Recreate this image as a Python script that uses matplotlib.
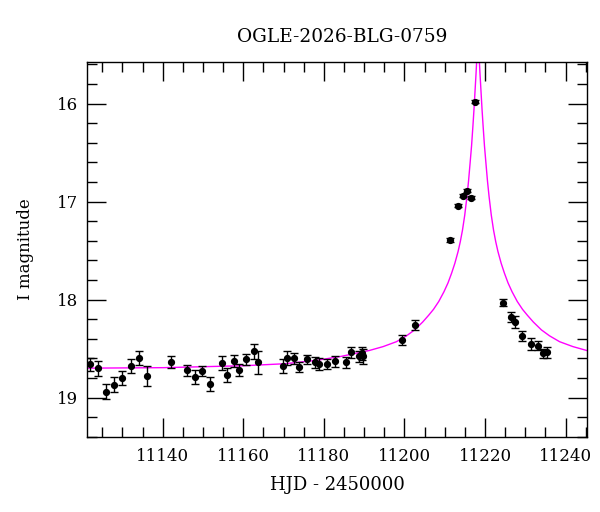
import numpy as np
import matplotlib.pyplot as plt
from matplotlib.ticker import MultipleLocator

plt.rcParams['font.family'] = ['DejaVu Serif']

# photometry
hjd = [11121.9, 11124.0, 11126.0, 11128.0, 11130.0, 11132.0, 11134.0, 11136.0,
       11142.1, 11146.0, 11148.0, 11149.8, 11151.8, 11154.6, 11156.0, 11157.8,
       11158.9, 11160.7, 11162.7, 11163.7, 11169.8, 11170.9, 11172.7, 11173.8,
       11175.7, 11177.7, 11178.7, 11180.7, 11182.7, 11185.5, 11186.7, 11188.6,
       11189.5, 11189.8, 11199.4, 11202.6, 11211.3, 11213.4, 11214.4, 11215.4,
       11216.5, 11217.5, 11224.4, 11226.4, 11227.4, 11229.2, 11231.4, 11233.2,
       11234.3, 11235.4]
mag = [18.66, 18.70, 18.94, 18.87, 18.80, 18.68, 18.60, 18.78,
       18.64, 18.72, 18.79, 18.73, 18.86, 18.65, 18.77, 18.63,
       18.72, 18.61, 18.53, 18.64, 18.68, 18.60, 18.60, 18.69,
       18.61, 18.64, 18.66, 18.66, 18.63, 18.64, 18.54, 18.58,
       18.55, 18.58, 18.41, 18.26, 17.39, 17.04, 16.94, 16.89,
       16.96, 15.98, 18.03, 18.18, 18.23, 18.37, 18.45, 18.47,
       18.55, 18.54]
err = [0.066, 0.075, 0.075, 0.075, 0.07, 0.07, 0.07, 0.10,
       0.06, 0.055, 0.07, 0.05, 0.07, 0.07, 0.07, 0.06,
       0.065, 0.058, 0.075, 0.12, 0.07, 0.07, 0.055, 0.05,
       0.045, 0.055, 0.06, 0.05, 0.055, 0.055, 0.06, 0.055,
       0.065, 0.075, 0.05, 0.05, 0.02, 0.015, 0.015, 0.015,
       0.015, 0.015, 0.035, 0.05, 0.065, 0.05, 0.06, 0.045,
       0.045, 0.058]

# model curve, points
model_t = [11121.2, 11140.25, 11160.25, 11170.25, 11178.25, 11184.25, 11191.25,
           11194.7, 11198.0, 11200.5, 11202.5, 11204.5, 11206.0, 11207.2,
           11208.5, 11209.8, 11210.8, 11211.7, 11212.5, 11213.3, 11213.85,
           11214.4, 11214.95, 11215.5, 11215.9, 11216.3, 11216.65, 11217.0,
           11217.25, 11217.5, 11217.75, 11218.0, 11218.25,
           11218.5, 11218.75, 11219.0, 11219.25, 11219.5, 11219.85, 11220.2,
           11220.6, 11221.0, 11221.55, 11222.1, 11222.65, 11223.2, 11224.0,
           11224.8, 11225.7, 11226.7, 11228.0, 11229.3, 11230.5, 11232.0,
           11234.0, 11236.0, 11238.5, 11241.8, 11245.25, 11245.4]
model_mag = [18.70, 18.695, 18.675, 18.655, 18.62, 18.58, 18.52,
             18.48, 18.43, 18.37, 18.31, 18.23, 18.16, 18.10,
             18.02, 17.92, 17.83, 17.73, 17.63, 17.51, 17.41,
             17.29, 17.14, 16.95, 16.79, 16.60, 16.43, 16.22,
             16.06, 15.88, 15.70, 15.50, 15.00,
             15.50, 15.70, 15.88, 16.06, 16.22, 16.43, 16.60,
             16.79, 16.95, 17.14, 17.29, 17.41, 17.51, 17.63,
             17.73, 17.83, 17.92, 18.02, 18.10, 18.16, 18.23,
             18.31, 18.37, 18.43, 18.48, 18.52, 18.52]

fig = plt.figure(figsize=(6, 5.12), dpi=100)
ax = fig.add_axes([0.145, 0.147, 0.834, 0.731])

ax.plot(model_t, model_mag, color='#ff00ff', lw=1.0, zorder=1)
ax.errorbar(hjd, mag, yerr=err, fmt='o', color='black', ms=4.2, elinewidth=1,
            capsize=3, capthick=1, zorder=2)

ax.set_xlim(11121.2, 11245.4)
ax.set_ylim(19.40, 15.58)
ax.xaxis.set_major_locator(MultipleLocator(20))
ax.xaxis.set_minor_locator(MultipleLocator(5))
ax.yaxis.set_major_locator(MultipleLocator(1))
ax.yaxis.set_minor_locator(MultipleLocator(0.2))
ax.tick_params(which='both', direction='in', top=True, right=True, width=1,
               labelsize=12)
ax.tick_params(which='major', length=13.5)
ax.tick_params(axis='y', which='major', pad=6.5)
ax.tick_params(axis='x', which='major', pad=8)
ax.tick_params(which='minor', length=7)
for s in ax.spines.values():
    s.set_linewidth(1)

ax.set_title('OGLE-2026-BLG-0759', fontsize=13.3, pad=14.5, x=0.509)
ax.set_xlabel('HJD - 2450000', fontsize=13, labelpad=8)
ax.set_ylabel('I magnitude', fontsize=12, labelpad=16)

fig.savefig('out.png', dpi=100)
